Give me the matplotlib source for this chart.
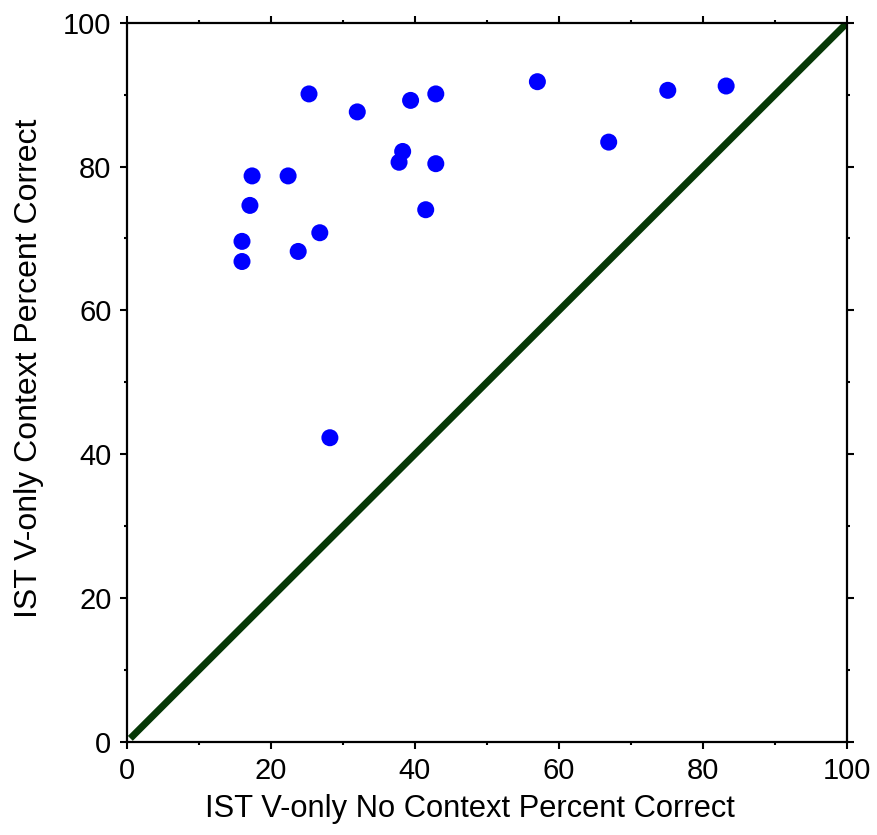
import matplotlib
matplotlib.use("Agg")
import matplotlib.pyplot as plt
from matplotlib.ticker import MultipleLocator

plt.rcParams['font.family'] = ['Liberation Sans', 'DejaVu Sans']

# percent correct, no context (x) vs context (y)
no_context = [25.3, 32.0, 39.4, 42.9, 38.3, 37.8, 42.9, 17.4, 22.4, 17.1,
              41.5, 16.0, 26.8, 23.8, 16.0, 28.2, 57.0, 66.9, 75.1, 83.2]
with_context = [90.1, 87.6, 89.2, 90.1, 82.1, 80.6, 80.4, 78.7, 78.7, 74.6,
                74.0, 69.6, 70.8, 68.2, 66.8, 42.3, 91.8, 83.4, 90.6, 91.2]
diag = [0.5, 100]

fig = plt.figure(figsize=(8.77, 8.35), dpi=100)
ax = fig.add_axes([0.1445, 0.1114, 0.8215, 0.8614])

ax.plot(diag, diag, color="#063806", linewidth=5, solid_capstyle="butt", zorder=2)
ax.scatter(no_context, with_context, s=150, color="#0000ff", edgecolors="none", zorder=3)

ax.set_xlim(0, 100)
ax.set_ylim(0, 100)
ax.xaxis.set_major_locator(MultipleLocator(20))
ax.yaxis.set_major_locator(MultipleLocator(20))
ax.xaxis.set_minor_locator(MultipleLocator(10))
ax.yaxis.set_minor_locator(MultipleLocator(10))

for s in ax.spines.values():
    s.set_linewidth(1.6)
ax.tick_params(which="both", direction="out", top=True, right=True, width=1.5, labelsize=21)
ax.tick_params(which="major", length=5, pad=6)
ax.tick_params(which="minor", length=2.5)

ax.set_xlabel("IST V-only No Context Percent Correct", fontsize=22.2, labelpad=10)
ax.set_ylabel("IST V-only Context Percent Correct", fontsize=23, labelpad=14)
ax.xaxis.set_label_coords(0.476, -0.073)
ax.yaxis.label.set_position((0, 0.519))

fig.savefig("out.png", dpi=100)
